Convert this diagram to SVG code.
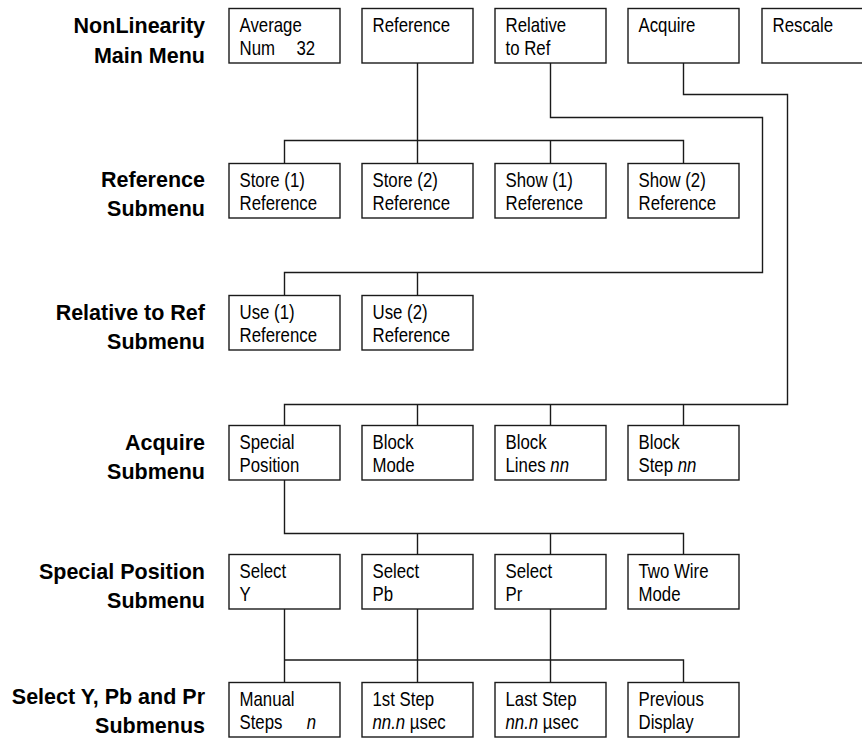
<svg xmlns="http://www.w3.org/2000/svg" width="862" height="738" viewBox="0 0 862 738">
<style>
  .box { fill:#fff; stroke:#1a1a1a; stroke-width:1.4; }
  .wire { fill:none; stroke:#1a1a1a; stroke-width:1.4; }
  .t { font-family:"Liberation Sans", Arial, sans-serif; font-size:20.5px; fill:#000; }
  .lbl { font-family:"Liberation Sans", Arial, sans-serif; font-size:21.5px; font-weight:bold; fill:#000; text-anchor:end; }
  .i { font-style:italic; }
</style>
<rect width="862" height="738" fill="#fff"/>

<g id="connectors">
  <path class="wire" d="M417.5 63 V163.5 M284.5 163.5 V140.5 H683.5 V163.5 M550.5 140.5 V163.5"/>
  <path class="wire" d="M550.5 63 V117.5 H762.5 V272.5 H284.5 V295.5 M417.5 272.5 V295.5"/>
  <path class="wire" d="M683.5 63 V94.5 H787.5 V404.5 H284.5 V425.5 M417.5 404.5 V425.5 M550.5 404.5 V425.5 M683.5 404.5 V425.5"/>
  <path class="wire" d="M284.5 480 V533.5 H683.5 V554.5 M417.5 533.5 V554.5 M550.5 533.5 V554.5"/>
  <path class="wire" d="M284.5 609 V682.5 M417.5 609 V682.5 M550.5 609 V682.5 M284.5 660 H683.5 V682.5"/>
</g>

<g id="labels">
  <text id="lbl-main" class="lbl"><tspan x="205" y="33">NonLinearity</tspan><tspan x="205" y="62.5">Main Menu</tspan></text>
  <text id="lbl-ref" class="lbl"><tspan x="205" y="186.5">Reference</tspan><tspan x="205" y="216">Submenu</tspan></text>
  <text id="lbl-rel" class="lbl"><tspan x="205" y="319.5">Relative to Ref</tspan><tspan x="205" y="349">Submenu</tspan></text>
  <text id="lbl-acq" class="lbl"><tspan x="205" y="449.5">Acquire</tspan><tspan x="205" y="479">Submenu</tspan></text>
  <text id="lbl-sp" class="lbl"><tspan x="205" y="578.5">Special Position</tspan><tspan x="205" y="608">Submenu</tspan></text>
  <text id="lbl-sel" class="lbl"><tspan x="205" y="704">Select Y, Pb and Pr</tspan><tspan x="205" y="733">Submenus</tspan></text>
</g>

<!-- Row 1: Main menu -->
<g id="average">
  <rect class="box" x="229" y="8.5" width="111" height="54.5"/>
  <text class="t" transform="translate(239.5,31.5) scale(0.82,1)"><tspan x="0">Average</tspan><tspan x="0" dy="23.5">Num</tspan><tspan x="69.5">32</tspan></text>
</g>
<g id="reference">
  <rect class="box" x="362" y="8.5" width="111" height="54.5"/>
  <text class="t" transform="translate(372.5,31.5) scale(0.82,1)">Reference</text>
</g>
<g id="relative">
  <rect class="box" x="495" y="8.5" width="111" height="54.5"/>
  <text class="t" transform="translate(505.5,31.5) scale(0.82,1)"><tspan x="0">Relative</tspan><tspan x="0" dy="23.5">to Ref</tspan></text>
</g>
<g id="acquire">
  <rect class="box" x="628" y="8.5" width="111" height="54.5"/>
  <text class="t" transform="translate(638.5,31.5) scale(0.82,1)">Acquire</text>
</g>
<g id="rescale">
  <rect class="box" x="762" y="8.5" width="111" height="54.5"/>
  <text class="t" transform="translate(772.5,31.5) scale(0.82,1)">Rescale</text>
</g>

<!-- Row 2: Reference submenu -->
<g id="store1">
  <rect class="box" x="229" y="163.5" width="111" height="54.5"/>
  <text class="t" transform="translate(239.5,186.5) scale(0.82,1)"><tspan x="0">Store (1)</tspan><tspan x="0" dy="23.5">Reference</tspan></text>
</g>
<g id="store2">
  <rect class="box" x="362" y="163.5" width="111" height="54.5"/>
  <text class="t" transform="translate(372.5,186.5) scale(0.82,1)"><tspan x="0">Store (2)</tspan><tspan x="0" dy="23.5">Reference</tspan></text>
</g>
<g id="show1">
  <rect class="box" x="495" y="163.5" width="111" height="54.5"/>
  <text class="t" transform="translate(505.5,186.5) scale(0.82,1)"><tspan x="0">Show (1)</tspan><tspan x="0" dy="23.5">Reference</tspan></text>
</g>
<g id="show2">
  <rect class="box" x="628" y="163.5" width="111" height="54.5"/>
  <text class="t" transform="translate(638.5,186.5) scale(0.82,1)"><tspan x="0">Show (2)</tspan><tspan x="0" dy="23.5">Reference</tspan></text>
</g>

<!-- Row 3: Relative to Ref submenu -->
<g id="use1">
  <rect class="box" x="229" y="295.5" width="111" height="54.5"/>
  <text class="t" transform="translate(239.5,318.5) scale(0.82,1)"><tspan x="0">Use (1)</tspan><tspan x="0" dy="23.5">Reference</tspan></text>
</g>
<g id="use2">
  <rect class="box" x="362" y="295.5" width="111" height="54.5"/>
  <text class="t" transform="translate(372.5,318.5) scale(0.82,1)"><tspan x="0">Use (2)</tspan><tspan x="0" dy="23.5">Reference</tspan></text>
</g>

<!-- Row 4: Acquire submenu -->
<g id="special">
  <rect class="box" x="229" y="425.5" width="111" height="54.5"/>
  <text class="t" transform="translate(239.5,448.5) scale(0.82,1)"><tspan x="0">Special</tspan><tspan x="0" dy="23.5">Position</tspan></text>
</g>
<g id="blockmode">
  <rect class="box" x="362" y="425.5" width="111" height="54.5"/>
  <text class="t" transform="translate(372.5,448.5) scale(0.82,1)"><tspan x="0">Block</tspan><tspan x="0" dy="23.5">Mode</tspan></text>
</g>
<g id="blocklines">
  <rect class="box" x="495" y="425.5" width="111" height="54.5"/>
  <text class="t" transform="translate(505.5,448.5) scale(0.82,1)"><tspan x="0">Block</tspan><tspan x="0" dy="23.5">Lines </tspan><tspan class="i">nn</tspan></text>
</g>
<g id="blockstep">
  <rect class="box" x="628" y="425.5" width="111" height="54.5"/>
  <text class="t" transform="translate(638.5,448.5) scale(0.82,1)"><tspan x="0">Block</tspan><tspan x="0" dy="23.5">Step </tspan><tspan class="i">nn</tspan></text>
</g>

<!-- Row 5: Special Position submenu -->
<g id="sely">
  <rect class="box" x="229" y="554.5" width="111" height="54.5"/>
  <text class="t" transform="translate(239.5,577.5) scale(0.82,1)"><tspan x="0">Select</tspan><tspan x="0" dy="23.5">Y</tspan></text>
</g>
<g id="selpb">
  <rect class="box" x="362" y="554.5" width="111" height="54.5"/>
  <text class="t" transform="translate(372.5,577.5) scale(0.82,1)"><tspan x="0">Select</tspan><tspan x="0" dy="23.5">Pb</tspan></text>
</g>
<g id="selpr">
  <rect class="box" x="495" y="554.5" width="111" height="54.5"/>
  <text class="t" transform="translate(505.5,577.5) scale(0.82,1)"><tspan x="0">Select</tspan><tspan x="0" dy="23.5">Pr</tspan></text>
</g>
<g id="twowire">
  <rect class="box" x="628" y="554.5" width="111" height="54.5"/>
  <text class="t" transform="translate(638.5,577.5) scale(0.82,1)"><tspan x="0">Two Wire</tspan><tspan x="0" dy="23.5">Mode</tspan></text>
</g>

<!-- Row 6: Select Y, Pb and Pr submenus -->
<g id="manual">
  <rect class="box" x="229" y="682.5" width="111" height="54.5"/>
  <text class="t" transform="translate(239.5,705.5) scale(0.82,1)"><tspan x="0">Manual</tspan><tspan x="0" dy="23.5">Steps</tspan><tspan class="i" x="82">n</tspan></text>
</g>
<g id="firststep">
  <rect class="box" x="362" y="682.5" width="111" height="54.5"/>
  <text class="t" transform="translate(372.5,705.5) scale(0.82,1)"><tspan x="0">1st Step</tspan><tspan x="0" dy="23.5" class="i">nn.n</tspan><tspan> µsec</tspan></text>
</g>
<g id="laststep">
  <rect class="box" x="495" y="682.5" width="111" height="54.5"/>
  <text class="t" transform="translate(505.5,705.5) scale(0.82,1)"><tspan x="0">Last Step</tspan><tspan x="0" dy="23.5" class="i">nn.n</tspan><tspan> µsec</tspan></text>
</g>
<g id="previous">
  <rect class="box" x="628" y="682.5" width="111" height="54.5"/>
  <text class="t" transform="translate(638.5,705.5) scale(0.82,1)"><tspan x="0">Previous</tspan><tspan x="0" dy="23.5">Display</tspan></text>
</g>
</svg>
